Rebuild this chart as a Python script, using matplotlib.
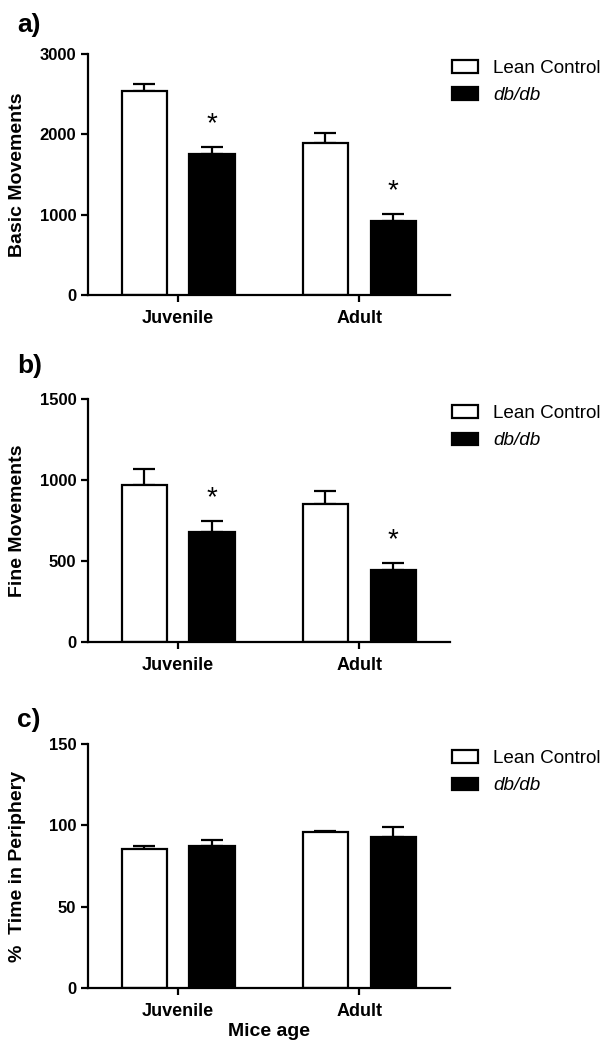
import matplotlib
matplotlib.use("Agg")
import matplotlib.pyplot as plt
from matplotlib.patches import Patch

plt.rcParams['font.family'] = ['Liberation Sans', 'DejaVu Sans']

groups = ["Juvenile", "Adult"]
series_names = ["Lean Control", "db/db"]

basic_lean = [2545, 1895]
basic_lean_err = [80, 120]
basic_db = [1752, 925]
basic_db_err = [88, 88]

fine_lean = [968, 851]
fine_lean_err = [98, 80]
fine_db = [679, 444]
fine_db_err = [68, 43]

peri_lean = [85.2, 95.6]
peri_lean_err = [1.9, 1.1]
peri_db = [87.5, 92.8]
peri_db_err = [3.3, 6.1]

panels = [
    dict(label="a)", ylabel="Basic Movements", ylim=3000, yticks=[0, 1000, 2000, 3000],
         lean=basic_lean, lean_err=basic_lean_err, db=basic_db, db_err=basic_db_err,
         stars=True, top=54, bottom=295, plabel_y=13, xlabel=None),
    dict(label="b)", ylabel="Fine Movements", ylim=1500, yticks=[0, 500, 1000, 1500],
         lean=fine_lean, lean_err=fine_lean_err, db=fine_db, db_err=fine_db_err,
         stars=True, top=399, bottom=642, plabel_y=354, xlabel=None),
    dict(label="c)", ylabel="%  Time in Periphery", ylim=150, yticks=[0, 50, 100, 150],
         lean=peri_lean, lean_err=peri_lean_err, db=peri_db, db_err=peri_db_err,
         stars=False, top=744, bottom=988, plabel_y=708, xlabel="Mice age"),
]

W, H = 611, 1050
fig = plt.figure(figsize=(W / 100, H / 100), dpi=100)

left_px, right_px = 87.5, 450
bw = 0.25
off = 0.187
x = [0, 1]

for p in panels:
    ax = fig.add_axes([left_px / W, 1 - p["bottom"] / H,
                       (right_px - left_px) / W, (p["bottom"] - p["top"]) / H])
    xl = [xi - off for xi in x]
    xd = [xi + off for xi in x]
    ax.bar(xl, p["lean"], width=bw, color="white", edgecolor="black", linewidth=1.6, zorder=2)
    ax.bar(xd, p["db"], width=bw, color="black", edgecolor="black", linewidth=1.6, zorder=2)
    ax.errorbar(xl, p["lean"], yerr=[[0, 0], p["lean_err"]], fmt="none", ecolor="black",
                elinewidth=1.6, capsize=8, capthick=1.6, zorder=1)
    ax.errorbar(xd, p["db"], yerr=[[0, 0], p["db_err"]], fmt="none", ecolor="black",
                elinewidth=1.6, capsize=8, capthick=1.6, zorder=1)
    if p["stars"]:
        for xi, v, e in zip(xd, p["db"], p["db_err"]):
            ax.annotate("*", xy=(xi, v + e), xytext=(0, 7), textcoords="offset points",
                        ha="center", va="bottom", fontsize=20)
    ax.set_xlim(-0.5, 1.5)
    ax.set_ylim(0, p["ylim"])
    ax.set_yticks(p["yticks"])
    ax.set_xticks(x)
    ax.set_xticklabels(groups, fontsize=13, fontweight="bold")
    for t in ax.get_yticklabels():
        t.set_fontsize(12)
        t.set_fontweight("bold")
    ax.spines["top"].set_visible(False)
    ax.spines["right"].set_visible(False)
    ax.spines["left"].set_linewidth(1.6)
    ax.spines["bottom"].set_linewidth(1.6)
    ax.tick_params(axis="both", direction="out", length=5, width=1.6, pad=3)
    ax.tick_params(axis="x", pad=6)
    ax.set_ylabel(p["ylabel"], fontsize=14, fontweight="bold")
    ax.yaxis.set_label_coords(-0.17, 0.5)
    if p["xlabel"]:
        ax.set_xlabel(p["xlabel"], fontsize=14, fontweight="bold", labelpad=2)
    handles = [Patch(facecolor="white", edgecolor="black", linewidth=1.6),
               Patch(facecolor="black", edgecolor="black", linewidth=1.6)]
    leg = ax.legend(handles, series_names, loc="upper left", bbox_to_anchor=(1.005, 0.975),
                    frameon=False, fontsize=13.6, handlelength=1.4, handleheight=0.65,
                    handletextpad=0.8, labelspacing=0.55, borderpad=0, borderaxespad=0)
    leg.get_texts()[1].set_style("italic")
    fig.text(17 / W, 1 - p["plabel_y"] / H, p["label"], fontsize=19, fontweight="bold",
             ha="left", va="top")

fig.savefig("out.png", dpi=100)
